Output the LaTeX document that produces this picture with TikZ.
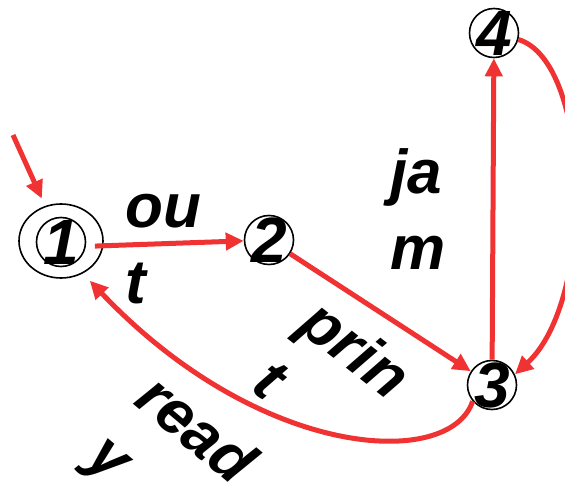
\documentclass[tikz,border=0pt]{standalone}
\usepackage{fontspec}
\setmainfont{Liberation Sans}
\usetikzlibrary{arrows.meta,shapes.geometric}
\definecolor{edgered}{RGB}{240,50,50}
\begin{document}
\begin{tikzpicture}[x=1pt,y=-1pt,
  st/.style={circle, draw=black, line width=1.6pt, minimum size=49pt, inner sep=0pt,
             label={[dig]center:#1}},
  dig/.style={font=\fontsize{64}{64}\selectfont\bfseries\itshape, inner sep=0pt},
  lbl/.style={font=\fontsize{62}{76}\selectfont\bfseries\itshape, align=left, inner sep=0pt},
  ed/.style={-{Triangle[length=18pt,width=17pt]}, line width=5pt, draw=edgered}]
\useasboundingbox (0,0) rectangle (565,484);
\node[st=1] (s1) at (61,242) {};
\node[ellipse, draw=black, line width=1.6pt, minimum width=84pt, minimum height=74pt] (s1o) at (61,241) {};
\node[st=2] (s2) at (269,240) {};
\node[st=3] (s3) at (492,385) {};
\node[st=4] (s4) at (494,33) {};
\coordinate (init) at (13,135);
\draw[ed, shorten >=8pt] (init) -- (s1o);
\draw[ed, shorten <=9pt] (s1.-10) -- (s2);
\draw[ed] (s2) -- (s3);
\draw[ed] (s3) -- (s4);
\draw[ed] (s4.-15) .. controls (592,62) and (596,300) .. (s3.25);
\draw[ed, shorten >=10pt] (s3.220) .. controls (450,470) and (260,460) .. (s1o.-56);
\node[lbl] (lout) at (163,249) {ou\\t};
\node[lbl] (ljam) at (418,209) {ja\\m};
\node[lbl, rotate=-38] (lprint) at (333,378) {prin\\t};
\node[lbl, rotate=-40] (lready) at (169,462) {read\\y};
\end{tikzpicture}
\end{document}
